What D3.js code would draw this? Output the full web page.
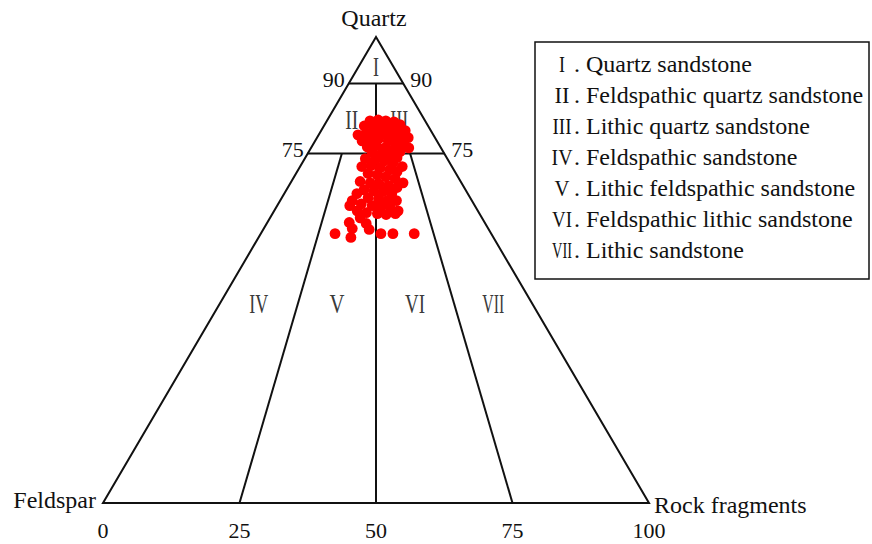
<!DOCTYPE html>
<html>
<head>
<meta charset="utf-8">
<script src="https://cdn.jsdelivr.net/npm/d3@7"></script>
<style>
  html, body { margin: 0; padding: 0; background: #fff; }
  svg { display: block; }
</style>
</head>
<body>
<svg id="chart" width="872" height="544"></svg>
<script>
// Sample compositions (%): quartz, feldspar, rock fragments
const quartz = [
  82.0, 82.2, 82.0, 81.8, 81.2, 80.9, 80.7, 80.9, 80.5, 80.1,
  79.9, 79.0, 79.4, 79.7, 79.4, 79.0, 78.6, 78.4, 77.7, 77.9,
  78.2, 77.7, 77.3, 76.9, 76.2, 76.4, 76.7, 76.2, 75.8, 75.4,
  75.2, 74.9, 74.5, 74.1, 73.9, 73.7, 73.4, 73.0, 72.2, 72.2,
  72.4, 71.9, 71.5, 71.1, 70.7, 70.4, 70.0, 69.6, 68.7, 69.0,
  68.7, 68.5, 68.1, 67.7, 67.2, 67.0, 66.8, 66.4, 66.4, 65.5,
  65.3, 64.9, 64.9, 64.9, 64.2, 63.8, 63.6, 63.4, 62.7, 62.7,
  62.3, 62.1, 61.9, 62.1, 61.2, 63.8, 60.2, 58.9, 60.0, 58.7,
  57.8, 57.0, 57.8, 57.8, 57.8
];
const feldspar = [
  10.1, 8.5, 7.2, 5.8, 5.0, 11.7, 10.1, 8.4, 7.1, 5.9,
  4.7, 13.8, 12.1, 10.3, 8.8, 7.6, 6.1, 4.9, 13.7, 12.1,
  10.4, 8.9, 7.6, 6.4, 5.9, 13.4, 11.6, 10.3, 9.0, 7.9,
  13.1, 11.6, 10.3, 9.1, 15.0, 13.3, 11.8, 10.4, 9.1, 16.5,
  14.7, 13.3, 11.8, 10.6, 16.1, 14.6, 13.2, 11.7, 10.7, 18.4,
  16.7, 15.2, 13.7, 12.3, 18.6, 16.9, 15.3, 13.9, 20.3, 18.7,
  16.9, 15.5, 13.8, 21.9, 20.6, 18.8, 17.3, 15.7, 14.6, 22.1,
  20.6, 18.7, 17.2, 15.4, 22.3, 22.9, 24.8, 24.9, 21.8, 21.9,
  28.6, 26.1, 20.2, 18.0, 14.1
];
const rockFragments = [
  7.9, 9.3, 10.8, 12.4, 13.8, 7.4, 9.2, 10.7, 12.4, 14.0,
  15.4, 7.2, 8.5, 10.0, 11.8, 13.4, 15.3, 16.7, 8.6, 10.0,
  11.4, 13.4, 15.1, 16.7, 17.9, 10.2, 11.7, 13.5, 15.2, 16.7,
  11.7, 13.5, 15.2, 16.8, 11.1, 13.0, 14.8, 16.6, 18.7, 11.3,
  12.9, 14.8, 16.7, 18.3, 13.2, 15.0, 16.8, 18.7, 20.6, 12.6,
  14.6, 16.3, 18.2, 20.0, 14.2, 16.1, 17.9, 19.7, 13.3, 15.8,
  17.8, 19.6, 21.3, 13.2, 15.2, 17.4, 19.1, 20.9, 22.7, 15.2,
  17.1, 19.2, 20.9, 22.5, 16.5, 13.3, 15.0, 16.2, 18.2, 19.4,
  13.6, 16.9, 22.0, 24.2, 28.1
];

// Classification boundaries
const quartzLevels = [90, 75];
const ratioLines = [25, 50, 75];      // R/(F+R) x 100
const baseTicks = [0, 25, 50, 75, 100];

const regionNumerals = ["I", "II", "III", "IV", "V", "VI", "VII"];
const regionNames = [
  "Quartz sandstone",
  "Feldspathic quartz sandstone",
  "Lithic quartz sandstone",
  "Feldspathic sandstone",
  "Lithic feldspathic sandstone",
  "Feldspathic lithic sandstone",
  "Lithic sandstone"
];

const FONT = "'Liberation Serif', 'Times New Roman', 'DejaVu Serif', serif";
const svg = d3.select("#chart").attr("font-family", FONT);

// Ternary projection: vertical from quartz, horizontal from R + Q/2
const yQ = d3.scaleLinear().domain([0, 100]).range([503, 37]);
const xB = d3.scaleLinear().domain([0, 100]).range([103, 649]);
const pt = (q, f, r) => [xB(r + q / 2), yQ(q)];
// point at quartz level q and ratio rr (R share of F+R, %)
const ptRatio = (q, rr) => { const rest = 100 - q; return pt(q, rest * (1 - rr / 100), rest * rr / 100); };

// Condensed numeral widths (px)
const legendNumW = { I: 6, II: 15, III: 19, IV: 21, V: 15, VI: 20, VII: 20 };
const regionNumW = { I: 6, II: 13, III: 18, IV: 19, V: 15, VI: 20, VII: 22 };

// Draws a numeral squeezed horizontally to a given width, centred on cx
function numeral(parent, text, cx, y, width) {
  const t = parent.append("text").attr("text-anchor", "middle").text(text);
  const natural = t.node().getComputedTextLength();
  t.attr("transform", `translate(${cx},${y}) scale(${width / natural},1)`);
  return t;
}

const line = d3.line();
const g = svg.append("g").attr("fill", "none").attr("stroke", "#111").attr("stroke-width", 2);

// Outer triangle
g.append("path").attr("d", line([pt(100, 0, 0), pt(0, 100, 0), pt(0, 0, 100)]) + "Z")
  .attr("stroke-linejoin", "miter");

// Quartz level lines
quartzLevels.forEach(q => {
  g.append("path").attr("d", line([ptRatio(q, 0), ptRatio(q, 100)]));
});

// Ratio lines (50 reaches the 90 line, others stop at 75)
ratioLines.forEach(rr => {
  const top = rr === 50 ? 90 : 75;
  g.append("path").attr("d", line([ptRatio(top, rr), ptRatio(0, rr)]));
});

// Region numerals: [quartz level, ratio] of each label centre
const regionAt = [[93.5, 50], [82.2, 25], [82.2, 74], [42.7, 12.5], [42.7, 37.5], [42.7, 62.5], [42.7, 87.5]];
const regG = svg.append("g").attr("font-size", 27).attr("fill", "#3a3a3a");
regionNumerals.forEach((n, i) => {
  const p = ptRatio(...regionAt[i]);
  numeral(regG, n, p[0], p[1] + 9, regionNumW[n]);
});

// Sample points
const samples = quartz.map((q, i) => ({ q, f: feldspar[i], r: rockFragments[i] }));
svg.append("g").selectAll("circle").data(samples).join("circle")
  .attr("cx", d => pt(d.q, d.f, d.r)[0])
  .attr("cy", d => pt(d.q, d.f, d.r)[1])
  .attr("r", 5.4)
  .attr("fill", "#ff0000");

// Vertex labels
const lab = svg.append("g").attr("font-size", 24).attr("fill", "#111");
lab.append("text").attr("x", xB(50) - 2).attr("y", 26).attr("text-anchor", "middle").text("Quartz");
lab.append("text").attr("x", xB(0) - 7).attr("y", 508).attr("text-anchor", "end").text("Feldspar");
lab.append("text").attr("x", xB(100) + 5).attr("y", 513).attr("text-anchor", "start").text("Rock fragments");

// Quartz level labels on both sides
const lev = svg.append("g").attr("font-size", 22).attr("fill", "#111");
quartzLevels.forEach(q => {
  const L = ptRatio(q, 0), R = ptRatio(q, 100);
  lev.append("text").attr("x", L[0] - 4).attr("y", L[1] + 3).attr("text-anchor", "end").text(q);
  lev.append("text").attr("x", R[0] + 7).attr("y", R[1] + 3).attr("text-anchor", "start").text(q);
});

// Base ratio ticks
baseTicks.forEach(t => {
  lev.append("text").attr("x", xB(t)).attr("y", 538).attr("text-anchor", "middle").text(t);
});

// Legend
const leg = svg.append("g").attr("fill", "#111").attr("font-size", 24);
leg.append("rect").attr("x", 535).attr("y", 42).attr("width", 334).attr("height", 237)
  .attr("fill", "#fff").attr("stroke", "#111").attr("stroke-width", 1.5);
const rowY = d3.scaleLinear().domain([0, 6]).range([72, 258]);
regionNumerals.forEach((n, i) => {
  numeral(leg, n, 562, rowY(i), legendNumW[n]);
  leg.append("text").attr("x", 574).attr("y", rowY(i))
    .text(". " + regionNames[i]);
});
</script>
</body>
</html>
